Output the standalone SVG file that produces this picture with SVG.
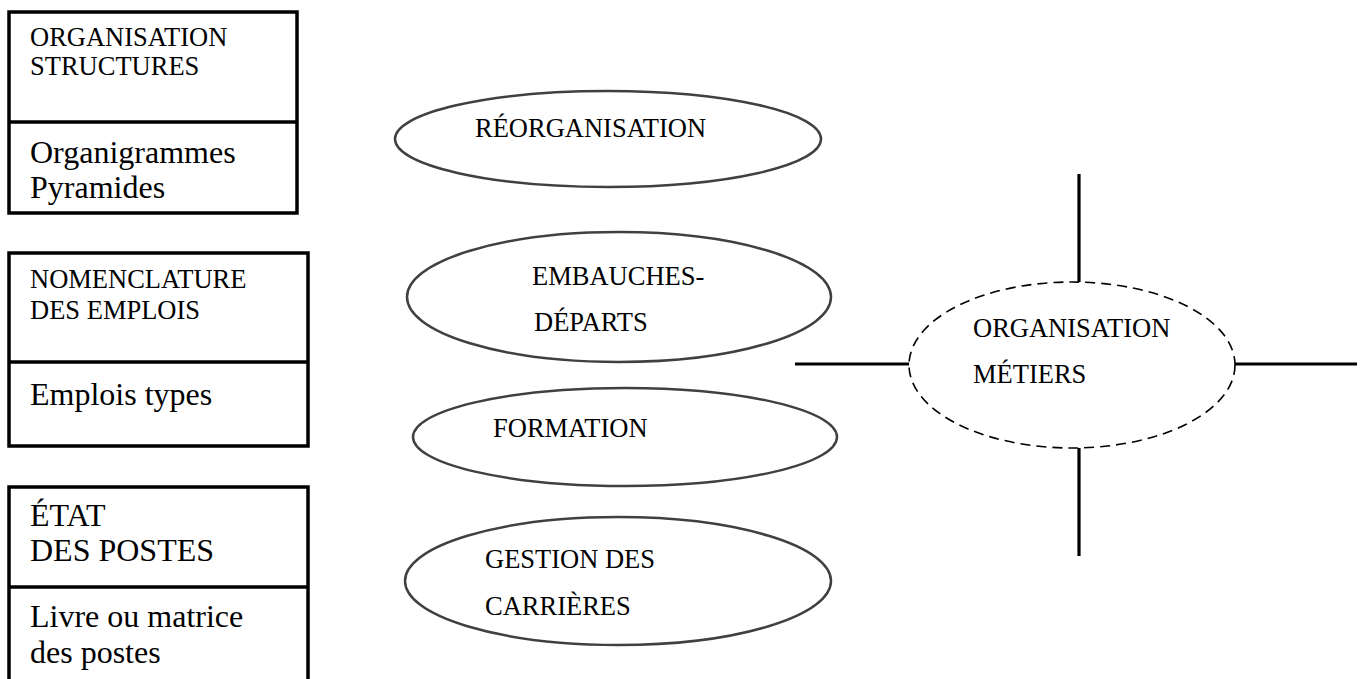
<svg xmlns="http://www.w3.org/2000/svg" width="1365" height="679" viewBox="0 0 1365 679">
<style>
.box{fill:none;stroke:#000;stroke-width:3.5}
.ell{fill:#fff;stroke:#404040;stroke-width:2.5}
.dash{fill:#fff;stroke:#000;stroke-width:1.6;stroke-dasharray:10 6}
.ln{stroke:#000;stroke-width:3.2;fill:none}
text{font-family:"Liberation Serif","Times New Roman",serif;fill:#000}
.s{font-size:26.5px}
.l{font-size:32px}
</style>
<rect width="1365" height="679" fill="#fff"/>
<g id="box-structures">
<rect class="box" x="9" y="12" width="288" height="201"/>
<line class="box" x1="9" y1="122" x2="297" y2="122"/>
<text class="s" x="30" y="46">ORGANISATION</text>
<text class="s" x="30" y="75">STRUCTURES</text>
<text class="l" x="30" y="163">Organigrammes</text>
<text class="l" x="30" y="198">Pyramides</text>
</g>
<g id="box-emplois">
<rect class="box" x="9" y="253" width="299" height="193"/>
<line class="box" x1="9" y1="362" x2="308" y2="362"/>
<text class="s" x="30" y="288">NOMENCLATURE</text>
<text class="s" x="30" y="319">DES EMPLOIS</text>
<text class="l" x="30" y="405">Emplois types</text>
</g>
<g id="box-postes">
<rect class="box" x="9" y="487" width="299" height="210"/>
<line class="box" x1="9" y1="587" x2="308" y2="587"/>
<text class="l" x="30" y="526">ÉTAT</text>
<text class="l" x="30" y="561">DES POSTES</text>
<text class="l" x="30" y="627">Livre ou matrice</text>
<text class="l" x="30" y="663">des postes</text>
</g>
<g id="connectors">
<line class="ln" x1="1079" y1="174" x2="1079" y2="282"/>
<line class="ln" x1="1079" y1="448" x2="1079" y2="556"/>
<line class="ln" x1="795" y1="364" x2="916" y2="364"/>
<line class="ln" x1="1235" y1="364" x2="1357" y2="364"/>
</g>
<g id="reorganisation">
<ellipse class="ell" cx="608" cy="139" rx="213" ry="48"/>
<text class="s" x="475" y="137">RÉORGANISATION</text>
</g>
<g id="embauches">
<ellipse class="ell" cx="619" cy="297" rx="212" ry="65"/>
<text class="s" x="532" y="285">EMBAUCHES-</text>
<text class="s" x="534" y="331">DÉPARTS</text>
</g>
<g id="formation">
<ellipse class="ell" cx="625" cy="437" rx="212" ry="49"/>
<text class="s" x="493" y="437">FORMATION</text>
</g>
<g id="carrieres">
<ellipse class="ell" cx="618" cy="581" rx="213" ry="64"/>
<text class="s" x="485" y="568">GESTION DES</text>
<text class="s" x="485" y="615">CARRIÈRES</text>
</g>
<g id="metiers">
<ellipse class="dash" cx="1072" cy="365" rx="163" ry="83"/>
<text class="s" x="973" y="337">ORGANISATION</text>
<text class="s" x="973" y="383">MÉTIERS</text>
</g>
</svg>
